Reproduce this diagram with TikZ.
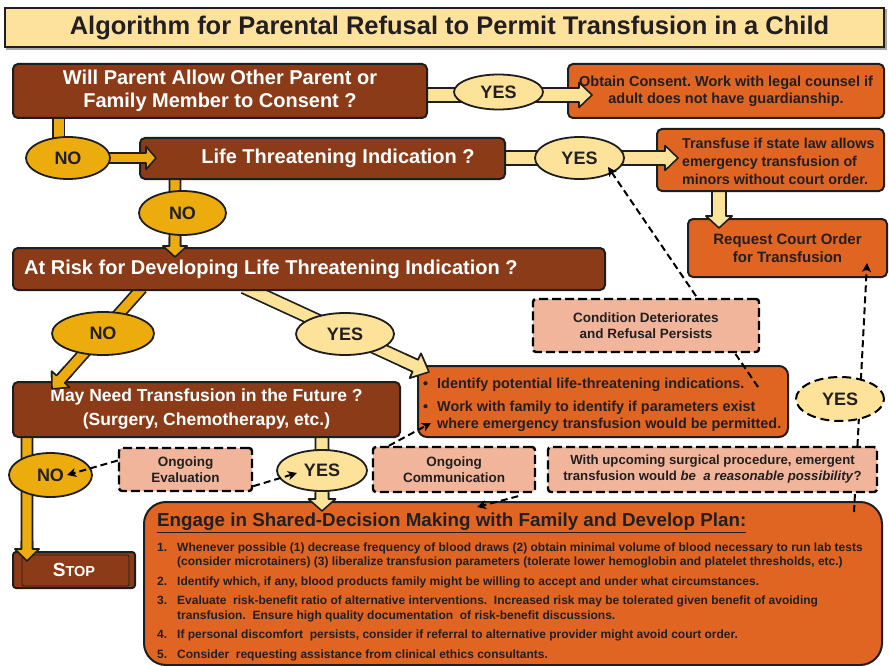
\documentclass[tikz,border=0pt]{standalone}
\usepackage{fontspec}
\setmainfont{Liberation Sans}
\usetikzlibrary{calc,arrows.meta,shapes.geometric}
\pgfdeclarelayer{background}
\pgfdeclarelayer{foreground}
\pgfsetlayers{background,main,foreground}
\frenchspacing

\definecolor{cbrown}{HTML}{8B3B17}
\definecolor{corange}{HTML}{E16522}
\definecolor{cpale}{HTML}{FDE29A}
\definecolor{cgold}{HTML}{EDAC0D}
\definecolor{csalmon}{HTML}{F0B59A}
\definecolor{ctitle}{HTML}{FDE29D}
\definecolor{cdark}{HTML}{231F20}
\definecolor{cborder}{HTML}{1E1E1E}

\tikzset{
  box/.style={rectangle, rounded corners=5pt, draw=cborder, line width=2pt, inner sep=0pt},
  brownbox/.style={box, fill=cbrown, text=white},
  orangebox/.style={box, fill=corange, text=cdark},
  salmonbox/.style={rectangle, rounded corners=3pt, fill=csalmon, draw=black, line width=2.4pt,
     dash pattern=on 9pt off 4pt, inner sep=0pt, text=cdark, align=center,
     font=\fontsize{13.5}{16.5}\selectfont\bfseries},
  yesell/.style={ellipse, fill=cpale, draw=cborder, line width=1.8pt, inner sep=0pt,
     font=\fontsize{18}{18}\selectfont\bfseries, text=cdark},
  noell/.style={yesell, fill=cgold},
  dconn/.style={draw=black, line width=2pt, dash pattern=on 7pt off 4pt,
     -{Stealth[length=9pt,width=9pt,inset=2.5pt]}},
  faline/.style={draw=cborder, line width=1.6pt, line join=round},
  shaftgold/.style={draw=cborder, line width=1.6pt, double=cgold, double distance=10pt},
}

\pgfkeys{/fa/sw/.store in=\fasw, /fa/hw/.store in=\fahw, /fa/hl/.store in=\fahl,
         /fa/fg/.store in=\fafg, /fa/col/.store in=\facol}
\newcommand\fatarrow[3][]{%
  \pgfkeys{/fa/sw=5, /fa/hw=11.5, /fa/hl=11, /fa/fg=25, /fa/col=cgold}%
  \pgfkeys{/fa/.cd,#1}%
  \path let \p1=(#2), \p2=(#3) in \pgfextra{%
    \pgfmathsetmacro\faang{atan2(\y2-\y1,\x2-\x1)}%
    \pgfmathsetmacro\falen{veclen(\x2-\x1,\y2-\y1)}%
    \xdef\faang{\faang}\xdef\falen{\falen}\xdef\fax{\x1}\xdef\fay{\y1}};
  \begin{scope}[shift={(\fax,\fay)}, rotate=\faang, x=1pt, y=1pt]
    \begin{pgfonlayer}{background}
      \fill[\facol] (0,-\fasw) -- ({\falen-\fahl},-\fasw) -- ({\falen-\fahl},-\fahw) -- (\falen,0)
        -- ({\falen-\fahl},\fahw) -- ({\falen-\fahl},\fasw) -- (0,\fasw) -- cycle;
      \draw[faline] (0,-\fasw) -- ({\falen-\fahl},-\fasw) -- ({\falen-\fahl},-\fahw) -- (\falen,0)
        -- ({\falen-\fahl},\fahw) -- ({\falen-\fahl},\fasw) -- (0,\fasw);
    \end{pgfonlayer}
    \begin{pgfonlayer}{foreground}
      \fill[\facol] ({\falen-\fafg},-\fasw) -- ({\falen-\fahl},-\fasw) -- ({\falen-\fahl},-\fahw) -- (\falen,0)
        -- ({\falen-\fahl},\fahw) -- ({\falen-\fahl},\fasw) -- ({\falen-\fafg},\fasw) -- cycle;
      \draw[faline] ({\falen-\fafg},-\fasw) -- ({\falen-\fahl},-\fasw) -- ({\falen-\fahl},-\fahw) -- (\falen,0)
        -- ({\falen-\fahl},\fahw) -- ({\falen-\fahl},\fasw) -- ({\falen-\fafg},\fasw);
    \end{pgfonlayer}
  \end{scope}
}

\begin{document}
\begin{tikzpicture}[x=1pt,y=-1pt]
\useasboundingbox (0,0) rectangle (889,666);
\begin{pgfonlayer}{background}
  \fill[white] (0,0) rectangle (889,666);
\end{pgfonlayer}

% title
\node[rectangle, fill=ctitle, draw=cborder, line width=1.6pt, minimum width=879, minimum height=39,
      inner sep=0pt, text=cdark, font=\fontsize{25.5}{25.5}\selectfont\bfseries] (title) at (444.5,27.5)
      {\hspace*{10pt}Algorithm for Parental Refusal to Permit Transfusion in a Child};
\begin{pgfonlayer}{background}
  \fill[gray!70] ($(title.south west)+(2,2)$) rectangle ($(title.north east)+(2,2)$);
\end{pgfonlayer}

% row 1
\node[brownbox, minimum width=414, minimum height=54, align=center,
      font=\fontsize{20}{23}\selectfont\bfseries] (b1) at (220,91)
      {Will Parent Allow Other Parent or\\Family Member to Consent ?};
\node[orangebox, minimum width=316, minimum height=54, align=center,
      font=\fontsize{14.5}{17}\selectfont\bfseries] (obtain) at (726,91)
      {Obtain Consent. Work with legal counsel if\\adult does not have guardianship.};
\node[yesell, minimum width=89, minimum height=35] (yes1) at (498.5,92) {YES};

% row 2
\node[noell, minimum width=84, minimum height=42] (no2) at (68,158) {NO};
\node[brownbox, minimum width=365, minimum height=41] (b2) at (322.5,158.5) {};
\node[text=white, font=\fontsize{20}{20}\selectfont\bfseries, inner sep=0pt] (b2t) at (338,158)
      {Life Threatening Indication ?};
\node[yesell, minimum width=89, minimum height=42] (yes3) at (579.5,158) {YES};
\node[orangebox, minimum width=227, minimum height=62] (transfuse) at (770.5,160) {};
\node[anchor=west, align=left, inner sep=0pt, text=cdark, font=\fontsize{14.3}{18}\selectfont\bfseries]
      (transfuset) at (682,161)
      {Transfuse if state law allows\\emergency transfusion of\\minors without court order.};
\node[orangebox, minimum width=199, minimum height=58, align=center,
      font=\fontsize{15}{17.5}\selectfont\bfseries] (request) at (787.5,248)
      {Request Court Order\\for Transfusion};

% row 3
\node[noell, minimum width=87, minimum height=44] (no3) at (182.5,213) {NO};
\node[brownbox, minimum width=592, minimum height=42] (b3) at (309,269) {};
\node[anchor=west, text=white, font=\fontsize{20}{20}\selectfont\bfseries, inner sep=0pt] (b3t) at (24,269)
      {At Risk for Developing Life Threatening Indication ?};

% row 4
\node[noell, minimum width=102, minimum height=43] (no4) at (103,333.5) {NO};
\node[yesell, minimum width=98, minimum height=42] (yes5) at (345,334) {YES};
\node[brownbox, minimum width=387, minimum height=55, align=center,
      font=\fontsize{17.5}{24}\selectfont\bfseries] (b4) at (206.5,409.5)
      {May Need Transfusion in the Future ?\\(Surgery, Chemotherapy, etc.)};
\node[orangebox, rounded corners=9pt, minimum width=370, minimum height=71] (identify) at (603,401.5) {};
\node[anchor=north west, align=left, inner sep=0pt, text=cdark, font=\fontsize{14.4}{17}\selectfont\bfseries]
      (identifyt) at (423,378)
      {\makebox[14pt][l]{•}Identify potential life-threatening indications.\\[5.5pt]
       \makebox[14pt][l]{•}Work with family to identify if parameters exist\\
       \hspace*{14pt}where emergency transfusion would be permitted.};

\coordinate (dI) at ($(identify.north east)+(-31,22)$);
\draw[dconn] (dI) -- ($(yes3.center)+(28.5,9)$);

\node[salmonbox, minimum width=226, minimum height=53] (condition) at (646,325.5)
      {Condition Deteriorates\\and Refusal Persists};

% row 5
\node[noell, minimum width=83, minimum height=44] (no6) at (50.5,475) {NO};
\node[yesell, minimum width=90, minimum height=41] (yes7) at (322,470.5) {YES};
\node[salmonbox, minimum width=133, minimum height=43] (evaluation) at (185.5,469.5)
      {Ongoing\\Evaluation};
\node[salmonbox, minimum width=162, minimum height=45] (communication) at (454,469.5)
      {Ongoing\\Communication};

% stop
\node[brownbox, rounded corners=3pt, minimum width=122, minimum height=36,
      font=\bfseries] (stop) at (74,570)
      {{\fontsize{19}{19}\selectfont S}{\fontsize{14.5}{14.5}\selectfont TOP}};
\draw[cdark, line width=0.8pt, rounded corners=2pt] ($(stop.north west)+(10,4)$) rectangle ($(stop.south east)+(-7,-3)$);

% engage
\node[orangebox, rounded corners=22pt, minimum width=738, minimum height=163] (engage) at (513,583.5) {};
\node[anchor=north west, align=left, inner sep=0pt, text=cdark, font=\fontsize{12}{14.5}\selectfont\bfseries]
      (engaget) at (157,513)
      {{\fontsize{18.8}{18}\selectfont\underline{Engage in Shared-Decision Making with Family and Develop Plan:}}\\[8.5pt]
       \makebox[20pt][l]{1.}Whenever possible (1) decrease frequency of blood draws (2) obtain minimal volume of blood necessary to run lab tests\\
       \hspace*{20pt}(consider microtainers) (3) liberalize transfusion parameters (tolerate lower hemoglobin and platelet thresholds, etc.)\\[5pt]
       \makebox[20pt][l]{2.}Identify which, if any, blood products family might be willing to accept and under what circumstances.\\[5pt]
       \makebox[20pt][l]{3.}Evaluate\ \ risk-benefit ratio of alternative interventions.\ \ Increased risk may be tolerated given benefit of avoiding\\
       \hspace*{20pt}transfusion.\ \ Ensure high quality documentation\ \ of risk-benefit discussions.\\[5pt]
       \makebox[20pt][l]{4.}If personal discomfort\ \ persists, consider if referral to alternative provider might avoid court order.\\[5pt]
       \makebox[20pt][l]{5.}Consider\ \ requesting assistance from clinical ethics consultants.};

% dashed connectors
\draw[dconn] ($(evaluation.west)+(0,-9)$) -- ($(no6.center)+(16.5,0)$);
\draw[dconn] ($(evaluation.south east)+(0,-6)$) -- ($(yes7.center)+(-25,2.5)$);
\draw[dconn] ($(communication.north west)+(17,0)$) -- ($(identify.south west)+(14,-15)$);
\draw[dconn] ($(communication.south east)+(-18,3)$) -- ($(engage.north west)+(334,6)$);
\coordinate (dE) at ($(engage.north east)+(-29,11)$);
\draw[dconn] (dE) -- ($(request.south east)+(-21,-15)$);

\node[salmonbox, font=\fontsize{13.2}{16}\selectfont\bfseries, minimum width=329, minimum height=45] (upcoming) at (712.5,469.5)
      {With upcoming surgical procedure, emergent\\transfusion would \textit{be\ \ a reasonable possibility}?};
\node[yesell, fill=cpale, draw=black, line width=2pt, dash pattern=on 9pt off 5pt,
      minimum width=88, minimum height=44] (yes8) at (840,399) {YES};

% fat arrows and shafts
\begin{pgfonlayer}{background}
  \draw[shaftgold] ($(b1.south west)+(46.5,-5)$) -- ($(b1.south west)+(46.5,40)$);
\end{pgfonlayer}
\fatarrow[col=cpale, sw=7, hw=12.5, hl=13, fg=30]{$(b1.east)+(-20,4)$}{$(obtain.west)+(25,4)$}
\fatarrow[col=cgold, sw=5, hw=11.5, hl=10, fg=25]{no2.center}{$(b2.west)+(17,-0.5)$}
\fatarrow[col=cpale, sw=7, hw=12.5, hl=13, fg=30]{$(b2.east)+(-10,-0.5)$}{$(transfuse.west)+(22,-2)$}
\fatarrow[col=cpale, sw=7, hw=13, hl=12, fg=25]{$(transfuse.south west)+(63,-5)$}{$(request.north west)+(32,10)$}
\fatarrow[col=cgold, sw=5.5, hw=12, hl=11, fg=20]{$(b2.south west)+(36,-5)$}{$(b3.north west)+(163,10)$}
\fatarrow[col=cgold, sw=5.5, hw=12, hl=13, fg=25]{$(b3.south west)+(130,-3)$}{$(b4.north west)+(40,8)$}
\fatarrow[col=cpale, sw=6.5, hw=13.5, hl=15, fg=30]{$(b3.south west)+(232,-4)$}{$(identify.north west)+(12,7)$}
\fatarrow[col=cgold, sw=5.5, hw=12, hl=12, fg=20]{$(b4.south west)+(15,-5)$}{$(stop.north west)+(15,10)$}
\fatarrow[col=cpale, sw=6.5, hw=13.5, hl=12, fg=18]{$(b4.south west)+(310,-5)$}{$(engage.north west)+(179,10)$}
\end{tikzpicture}
\end{document}
